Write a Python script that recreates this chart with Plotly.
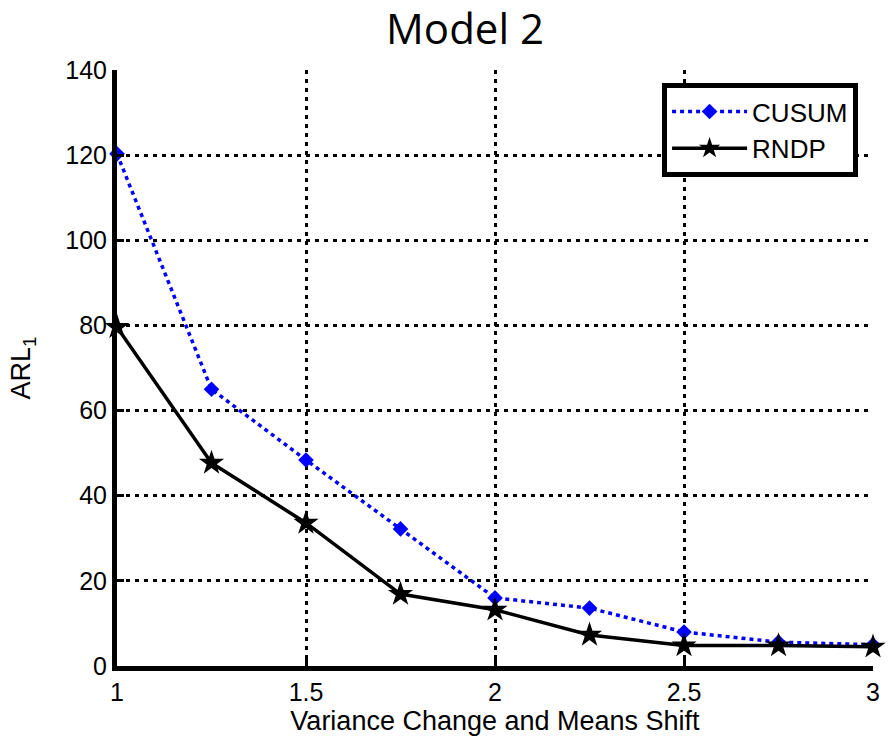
import plotly.graph_objects as go

# Shift sizes (variance change and means shift)
shift = [1.0, 1.25, 1.5, 1.75, 2.0, 2.25, 2.5, 2.75, 3.0]

# Out-of-control average run lengths per chart
arl_cusum = [120.3, 65.0, 48.4, 32.2, 16.0, 13.6, 8.0, 5.6, 5.0]
arl_rndp = [79.6, 47.7, 33.6, 16.9, 13.2, 7.3, 4.8, 4.8, 4.5]

x_ticks = [1, 1.5, 2, 2.5, 3]
x_tick_text = ["1", "1.5", "2", "2.5", "3"]
y_ticks = [0, 20, 40, 60, 80, 100, 120, 140]

fig = go.Figure()

fig.add_trace(go.Scatter(
    x=shift, y=arl_cusum, name="CUSUM", mode="lines+markers",
    line=dict(color="#0000ff", width=3.5, dash="4px,4px"),
    marker=dict(symbol="diamond", size=12, color="#0000ff"),
    cliponaxis=False,
))
fig.add_trace(go.Scatter(
    x=shift, y=arl_rndp, name="RNDP", mode="lines+markers",
    line=dict(color="black", width=3.5),
    marker=dict(symbol="star", size=19, color="black"),
    cliponaxis=False,
))

sans = "Liberation Sans, Arial, sans-serif"
tick_font = dict(family=sans, size=25, color="black")
label_font = dict(family=sans, size=27, color="black")

fig.update_layout(
    width=896, height=742,
    paper_bgcolor="white", plot_bgcolor="white",
    margin=dict(l=117, r=23, t=70, b=76),
    title=dict(text="Model 2", x=0.519, xanchor="center", y=0.96, yanchor="middle",
               font=dict(family="Open Sans, sans-serif", size=42, color="black")),
    font=tick_font,
    showlegend=True,
    legend=dict(x=0.721, y=0.978, xanchor="left", yanchor="top",
                bordercolor="black", borderwidth=5, bgcolor="white",
                font=dict(family=sans, size=26, color="black"),
                itemwidth=75, tracegroupgap=0),
    xaxis=dict(
        range=[1, 3], tickvals=x_ticks, ticktext=x_tick_text,
        showline=True, linecolor="black", linewidth=5,
        ticks="inside", ticklen=7, tickwidth=3, tickcolor="black",
        showgrid=True, gridcolor="black", gridwidth=3, griddash="4px,5px",
        zeroline=False, mirror=False,
        title=dict(text="Variance Change and Means Shift", standoff=4, font=label_font),
        tickfont=tick_font,
    ),
    yaxis=dict(
        range=[0, 140], tickvals=y_ticks,
        showline=True, linecolor="black", linewidth=5,
        ticks="inside", ticklen=7, tickwidth=3, tickcolor="black",
        showgrid=True, gridcolor="black", gridwidth=3, griddash="4px,5px",
        zeroline=False, mirror=False,
        title=dict(text="ARL<sub>1</sub>", standoff=28, font=label_font),
        tickfont=tick_font,
    ),
)

fig.write_html("out.html")
